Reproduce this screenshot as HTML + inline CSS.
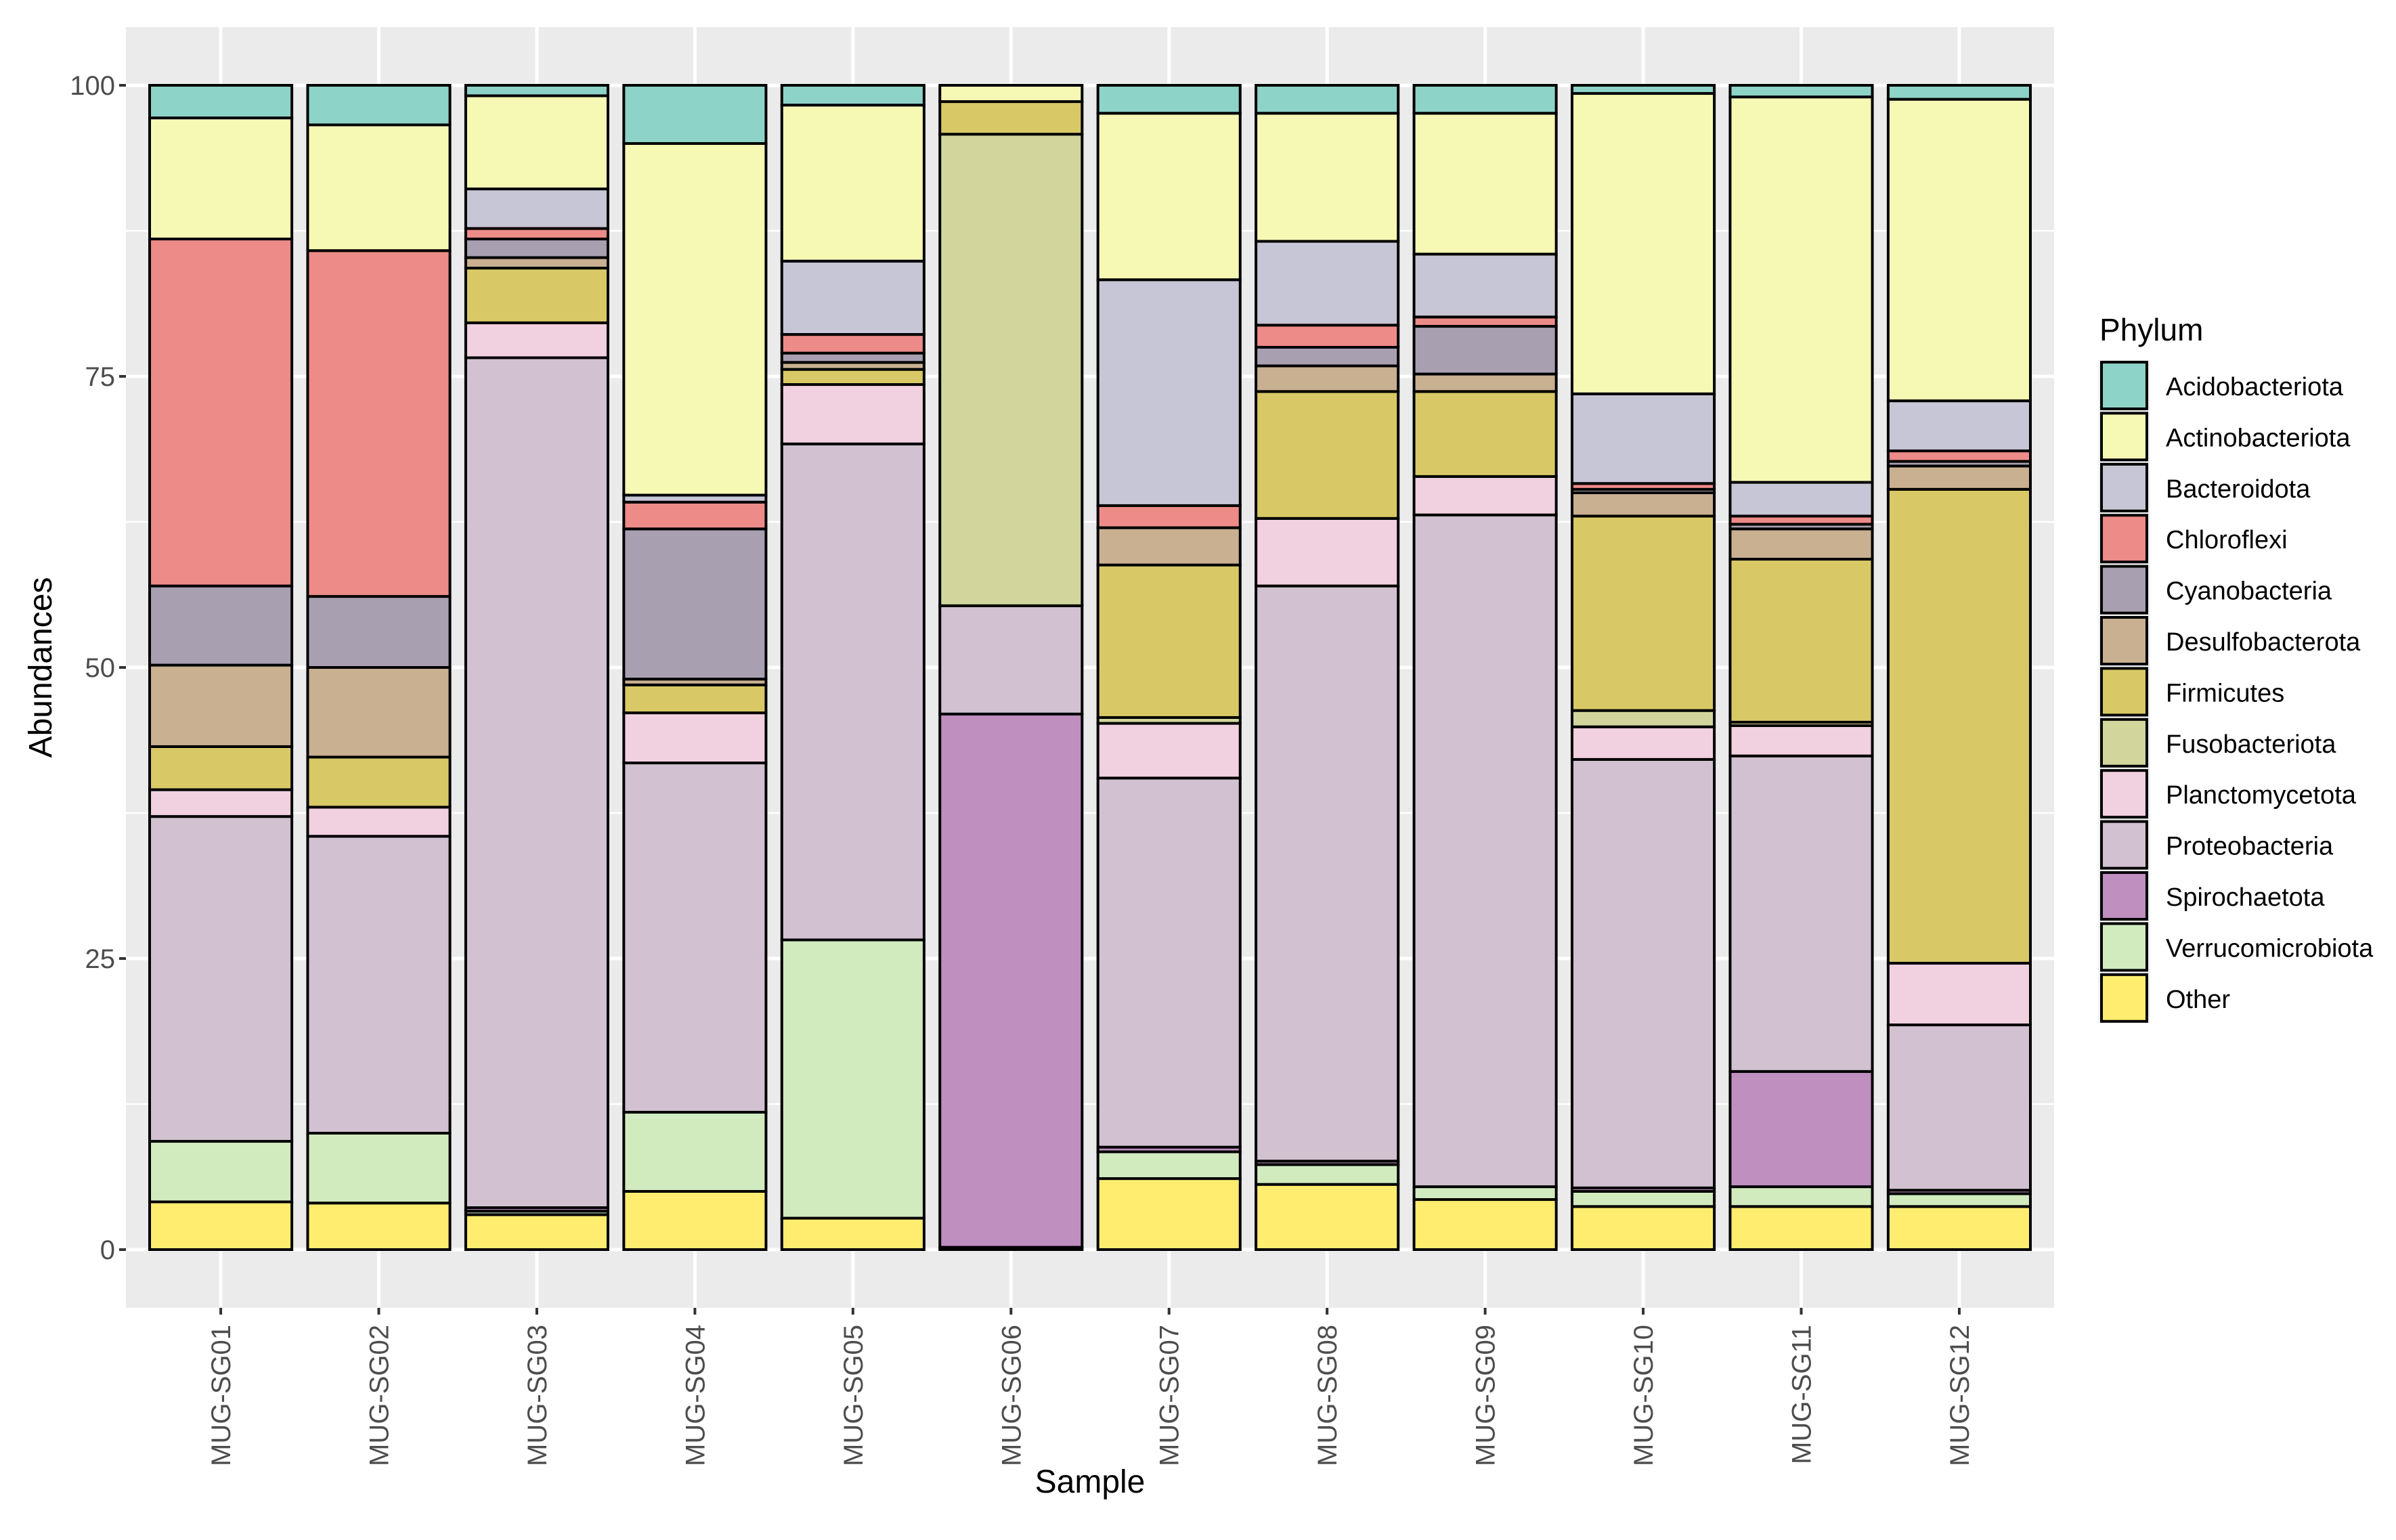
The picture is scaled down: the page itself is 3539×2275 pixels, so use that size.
<!DOCTYPE html>
<html><head><meta charset="utf-8"><style>
html,body{margin:0;padding:0;background:#fff;}
svg{display:block;font-family:"Liberation Sans",sans-serif;}
</style></head><body>
<svg id="chart" width="3539" height="2275" viewBox="0 0 3539 2275" xmlns="http://www.w3.org/2000/svg">
<rect x="186" y="40" width="2848" height="1892" fill="#ebebeb"/>
<g id="grid"></g>
<g id="bars"></g>
<g id="axes"></g>
<text transform="translate(76,986) rotate(-90)" text-anchor="middle" font-size="48" fill="#000">Abundances</text>
<text x="1610" y="2205" text-anchor="middle" font-size="48" fill="#000">Sample</text>
<g id="legend">
<text x="3101" y="503" font-size="46" fill="#000">Phylum</text>
</g>
</svg>
<script>
const samples = ["MUG-SG01","MUG-SG02","MUG-SG03","MUG-SG04","MUG-SG05","MUG-SG06","MUG-SG07","MUG-SG08","MUG-SG09","MUG-SG10","MUG-SG11","MUG-SG12"];
const phyla = ["Other","Verrucomicrobiota","Spirochaetota","Proteobacteria","Planctomycetota","Fusobacteriota","Firmicutes","Desulfobacterota","Cyanobacteria","Chloroflexi","Bacteroidota","Actinobacteriota","Acidobacteriota"];
const colors = ["#ffed6f","#d1ebbf","#bf8fbf","#d2c1d1","#f1d0e0","#d2d69d","#d8c966","#c8b091","#a89fb1","#ec8b88","#c7c6d6","#f6f9b4","#8dd3c7"];
const other = [4.1,4.0,3.0,5.0,2.7,0.2,6.1,5.6,4.3,3.7,3.7,3.7];
const verrucomicrobiota = [5.2,6.0,0.3,6.8,23.9,0,2.3,1.7,1.1,1.3,1.7,1.1];
const spirochaetota = [0,0,0.3,0,0,45.8,0.4,0.3,0,0.3,9.9,0.3];
const proteobacteria = [27.9,25.5,73.0,30.0,42.6,9.3,31.7,49.4,57.7,36.8,27.1,14.2];
const planctomycetota = [2.3,2.5,3.0,4.3,5.1,0,4.7,5.8,3.3,2.8,2.6,5.3];
const fusobacteriota = [0,0,0,0,0,40.5,0.5,0,0,1.4,0.3,0];
const firmicutes = [3.7,4.3,4.7,2.4,1.3,2.8,13.1,10.9,7.3,16.7,14.0,40.7];
const desulfobacterota = [7.0,7.7,0.9,0.5,0.6,0,3.2,2.2,1.5,2.0,2.6,2.0];
const cyanobacteria = [6.8,6.1,1.6,12.9,0.8,0,0,1.6,4.1,0.3,0.4,0.4];
const chloroflexi = [29.8,29.7,0.9,2.3,1.6,0,1.9,1.9,0.8,0.5,0.7,0.9];
const bacteroidota = [0,0,3.4,0.6,6.3,0,19.4,7.2,5.4,7.7,2.9,4.3];
const actinobacteriota = [10.4,10.8,8.0,30.2,13.4,1.4,14.3,11.0,12.1,25.8,33.1,25.9];
const acidobacteriota = [2.8,3.4,0.9,5.0,1.7,0,2.4,2.4,2.4,0.7,1.0,1.2];
const yTicks = [0,25,50,75,100];
const yTickLabels = ["0","25","50","75","100"];
const series = [other,verrucomicrobiota,spirochaetota,proteobacteria,planctomycetota,fusobacteriota,firmicutes,desulfobacterota,cyanobacteria,chloroflexi,bacteroidota,actinobacteriota,acidobacteriota];

const NS="http://www.w3.org/2000/svg";
const pL=186,pR=3034,pT=40,pB=1932;
const n=samples.length;
const step=(pR-pL)/(n+0.2);
function xC(i){return pL+step*(0.6+i);}
function yS(v){return pB-(v+5)/110*(pB-pT);}
function mk(tag,attrs,parent){const e=document.createElementNS(NS,tag);for(const k in attrs)e.setAttribute(k,attrs[k]);parent.appendChild(e);return e;}
const grid=document.getElementById('grid'),bars=document.getElementById('bars'),axes=document.getElementById('axes'),legend=document.getElementById('legend');
// minor grid
for(let k=0;k<yTicks.length-1;k++){
  const v=(yTicks[k]+yTicks[k+1])/2;
  const l=mk('line',{x1:pL,x2:pR,y1:yS(v),y2:yS(v),stroke:'#fff','stroke-width':2.5},grid);
  
  
}
yTicks.forEach((v,k)=>{
  const l=mk('line',{x1:pL,x2:pR,y1:yS(v),y2:yS(v),stroke:'#fff','stroke-width':5},grid);
  
  
  const t=mk('line',{x1:pL-10,x2:pL,y1:yS(v),y2:yS(v),stroke:'#333','stroke-width':4},axes);
  
  
  const tx=mk('text',{x:pL-16,y:yS(v)+14,'text-anchor':'end','font-size':40,fill:'#4d4d4d'},axes);
  tx.textContent=yTickLabels[k];
  
  
});
samples.forEach((s,i)=>{
  const x=xC(i);
  const l=mk('line',{x1:x,x2:x,y1:pT,y2:pB,stroke:'#fff','stroke-width':5},grid);
  
  
  const t=mk('line',{x1:x,x2:x,y1:pB,y2:pB+10,stroke:'#333','stroke-width':4},axes);
  
  
  const tx=mk('text',{transform:`translate(${x+14},${pB+25}) rotate(-90)`,'text-anchor':'end','font-size':40,fill:'#4d4d4d'},axes);
  tx.textContent=s;
  
  
  const bw=step*0.9;
  let cum=0;
  series.forEach((arr,j)=>{
    const v=arr[i];
    if(v<=0)return;
    const y0=yS(cum),y1=yS(cum+v);
    cum+=v;
    const r=mk('rect',{x:x-bw/2,y:y1,width:bw,height:y0-y1,fill:colors[j],stroke:'#000','stroke-width':4},bars);
    
    
  });
});
// legend
const order=phyla.slice().reverse(),lc=colors.slice().reverse();
order.forEach((p,k)=>{
  const y=532+k*75.4;
  const bg=mk('rect',{x:3099,y:y,width:77,height:75.4,fill:'#f2f2f2'},legend);
  
  
  const r=mk('rect',{x:3104,y:y+3,width:67,height:69,fill:lc[k],stroke:'#000','stroke-width':4},legend);
  
  
  const t=mk('text',{x:3199,y:y+52,'font-size':38,fill:'#000'},legend);
  t.textContent=p;
  
  
});
</script>
</body></html>
